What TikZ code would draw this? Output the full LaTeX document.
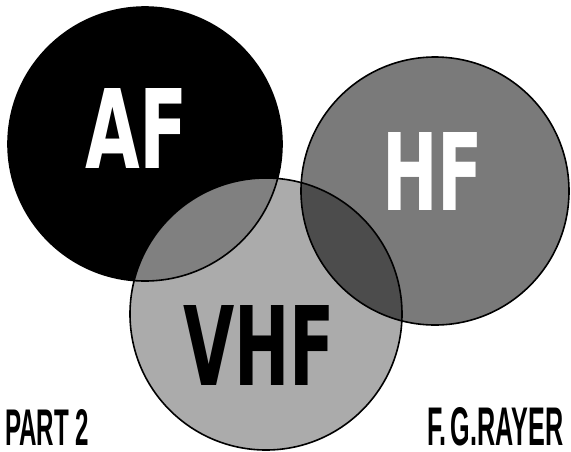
\documentclass[tikz,border=0pt]{standalone}
\usepackage{fontspec}
\setmainfont{DejaVu Sans}
\newfontfamily\capfont{Liberation Sans}
\begin{document}
\begin{tikzpicture}[x=1pt,y=-1pt]
\tikzset{
  ring/.style={draw=black, line width=1.6pt},
  vhffill/.style={fill=black!33},
  hffill/.style={fill=black!52},
  affill/.style={fill=black},
  lensaf/.style={fill=black!50},
  lenshf/.style={fill=black!70},
  biglabel/.style={inner sep=0pt, anchor=north west, font=\bfseries},
  caption/.style={inner sep=0pt, anchor=north west, font=\capfont\bfseries, text=black}
}
\useasboundingbox (0,0) rectangle (571,451);
\fill[white] (0,0) rectangle (571,451);
\coordinate (cAF) at (145,144);
\coordinate (cHF) at (435,191);
\coordinate (cVHF) at (266,314);
% base fills
\fill[vhffill] (cVHF) circle[radius=136pt];
\fill[hffill] (cHF) circle[radius=134pt];
\fill[affill] (cAF) circle[radius=137pt];
% overlaps
\begin{scope}
  \clip (cAF) circle[radius=137pt];
  \fill[lensaf] (cVHF) circle[radius=136pt];
\end{scope}
\begin{scope}
  \clip (cHF) circle[radius=134pt];
  \fill[lenshf] (cVHF) circle[radius=136pt];
\end{scope}
% outlines
\draw[ring] (cAF) circle[radius=137pt];
\draw[ring] (cHF) circle[radius=134pt];
\draw[ring] (cVHF) circle[radius=136pt];
% labels
\node[biglabel, text=white] (af) at (85,88) {\resizebox{103pt}{80pt}{AF}};
\node[biglabel, text=white] (hf) at (382,132) {\resizebox{101pt}{78pt}{HF}};
\node[biglabel, text=black] (vhf) at (183,305) {\resizebox{152pt}{80pt}{VHF}};
\node[caption] (part) at (5,409) {\resizebox{84pt}{36pt}{PART 2}};
\node[caption] (author) at (427,407) {\resizebox{136pt}{38pt}{F.\,G.RAYER}};
\end{tikzpicture}
\end{document}
